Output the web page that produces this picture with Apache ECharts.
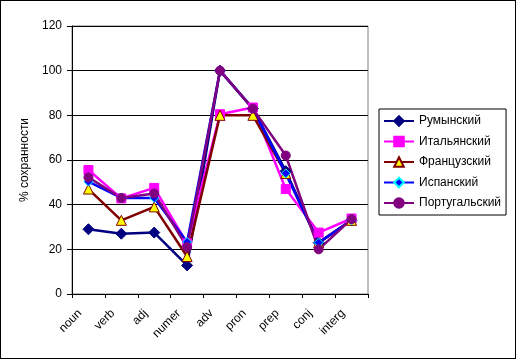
<!DOCTYPE html>
<html><head><meta charset="utf-8">
<script src="https://cdn.jsdelivr.net/npm/echarts@6/dist/echarts.min.js"></script>
<style>html,body{margin:0;padding:0;background:#fff}#c{width:514px;height:357px;border:1px solid #000}</style>
</head><body><div id="c"></div>
<script>
const categories = ['noun','verb','adj','numer','adv','pron','prep','conj','interg'];
const romanian   = [29, 27, 27.5, 12.8, 100, 83, 55, 23, 33];
const italian    = [55.5, 42.8, 47.5, 22.7, 80.5, 83.5, 47, 27.5, 33.8];
const french     = [47, 33, 39, 16.8, 80, 80, 54, 23, 33];
const spanish    = [50.3, 43, 43, 23.3, 100, 83, 54, 23, 33];
const portuguese = [52.2, 43, 45, 21, 100, 83, 62, 20, 33.5];
const yTicks = {min: 0, max: 120, interval: 20};

const font = 'Liberation Sans, Arial, sans-serif';
function ser(name, data, lineColor, symbol, size, fill, border){
  return {name, type:'line', data, symbol, symbolSize:size,
    lineStyle:{color:lineColor, width:2.5},
    itemStyle:{color:fill, borderColor:border, borderWidth:1, opacity:1},
    emphasis:{disabled:true}, animation:false};
}
const chart = echarts.init(document.getElementById('c'));
chart.setOption({
  animation:false,
  textStyle:{fontFamily:font},
  grid:{left:71, right:147, top:25, bottom:64, show:true, borderColor:'#808080', borderWidth:1, backgroundColor:'#fff'},
  xAxis:{type:'category', data:categories, boundaryGap:true,
    axisLine:{lineStyle:{color:'#000', width:1}},
    axisTick:{show:true, length:4, lineStyle:{color:'#000'}},
    axisLabel:{rotate:45, color:'#000', fontSize:12, fontFamily:font, margin:9, interval:0, padding:[0,12,0,0]}},
  yAxis:{type:'value', min:yTicks.min, max:yTicks.max, interval:yTicks.interval,
    name:'% сохранности', nameLocation:'middle', nameGap:38, nameRotate:90,
    nameTextStyle:{color:'#000', fontSize:12, fontFamily:font},
    axisLine:{show:true, lineStyle:{color:'#000'}},
    axisTick:{show:true, length:5, lineStyle:{color:'#000'}},
    axisLabel:{color:'#000', fontSize:12, fontFamily:font, margin:10},
    splitLine:{lineStyle:{color:'#000', width:1}}},
  legend:{orient:'vertical', left:378, top:108, itemWidth:30, itemHeight:12, itemGap:8.5,
    padding:[6,5,6,4], borderColor:'#000', borderWidth:1, backgroundColor:'#fff',
    textStyle:{color:'#000', fontSize:12, fontFamily:font},
    data:['Румынский','Итальянский','Французский','Испанский','Португальский']},
  series:[
    ser('Румынский', romanian, '#000080', 'diamond', 11, '#000080', '#000080'),
    ser('Итальянский', italian, '#FF00FF', 'rect', 9, '#FF00FF', '#FF00FF'),
    ser('Французский', french, '#800000', 'triangle', 10, '#FFFF00', '#800000'),
    ser('Испанский', spanish, '#0000FF', 'diamond', 9, '#0000FF', '#00FFFF'),
    ser('Португальский', portuguese, '#800080', 'circle', 9, '#800080', '#800080')
  ]
});
</script></body></html>
